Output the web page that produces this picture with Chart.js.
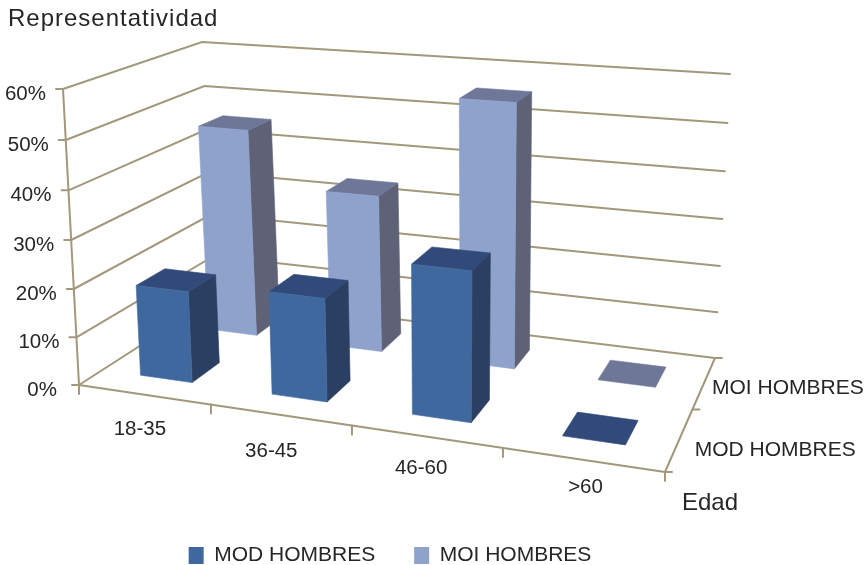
<!DOCTYPE html>
<html lang="es">
<head>
<meta charset="utf-8">
<title>Representatividad por edad</title>
<style>
  html, body { margin: 0; padding: 0; background: #fff; }
  #wrap { width: 866px; height: 565px; position: relative; }
</style>
<script src="https://cdn.jsdelivr.net/npm/chart.js@4/dist/chart.umd.min.js"></script>
</head>
<body>
<div id="wrap"><canvas id="chart" width="866" height="565"></canvas></div>
<script>
// Chart data
const ageGroups = ['18-35', '36-45', '46-60', '>60'];
const seriesNames = ['MOD HOMBRES', 'MOI HOMBRES'];
const modHombres = [19, 21, 29.7, 0];
const moiHombres = [45.5, 33.8, 55.5, 0];
const percentMax = 60;
const percentStep = 10;
const valueAxisTitle = 'Representatividad';
const ageAxisTitle = 'Edad';

// Box proportions and colours
const BAR_FILL = 0.4;
const modColors = { front: '#3f689f', top: '#324a79', side: '#2b3f62' };
const moiColors = { front: '#8fa2cc', top: '#6f7798', side: '#5f6276' };
const lineColor = '#a3977c';
const textColor = '#262626';
const fontFamily = '"Liberation Sans", Arial, sans-serif';

// Corners of the 3D frame on the canvas: front-left, front-right, back-right, back-left
const floorCorners = [[79, 385], [665, 472], [715, 358], [216, 297]];
const ceilingCorners = [[63, 89], [681, 136], [730, 74], [202, 42]];
const verticalPerspective = 0.96;

// Offsets of the age labels from the foot of each category on the front edge
const ageLabelOffsets = [[-4, 35], [-9, 36], [-5, 32], [3, 28]];

// Maps the unit square onto a quadrilateral
function squareToQuad(q) {
  const [p0, p1, p2, p3] = q;
  const d1x = p1[0] - p2[0], d1y = p1[1] - p2[1];
  const d2x = p3[0] - p2[0], d2y = p3[1] - p2[1];
  const sx = p0[0] - p1[0] + p2[0] - p3[0], sy = p0[1] - p1[1] + p2[1] - p3[1];
  const det = d1x * d2y - d2x * d1y;
  const g = (sx * d2y - d2x * sy) / det;
  const h = (d1x * sy - sx * d1y) / det;
  const a = p1[0] - p0[0] + g * p1[0], b = p3[0] - p0[0] + h * p3[0];
  const d = p1[1] - p0[1] + g * p1[1], e = p3[1] - p0[1] + h * p3[1];
  return (u, v) => {
    const den = 1 + g * u + h * v;
    return [(a * u + b * v + p0[0]) / den, (d * u + e * v + p0[1]) / den];
  };
}
const floorMap = squareToQuad(floorCorners);
const ceilingMap = squareToQuad(ceilingCorners);

// u: along the age axis, v: into the depth axis, w: up the value axis (all 0..1)
function project(u, v, w) {
  const b = floorMap(u, v), t = ceilingMap(u, v);
  const r = verticalPerspective;
  const den = (1 - w) + r * w;
  return [(b[0] * (1 - w) + r * t[0] * w) / den, (b[1] * (1 - w) + r * t[1] * w) / den];
}

function polyline(ctx, pts) {
  ctx.beginPath();
  pts.forEach((p, i) => i ? ctx.lineTo(p[0], p[1]) : ctx.moveTo(p[0], p[1]));
}
function fillFace(ctx, pts, color) {
  polyline(ctx, pts);
  ctx.closePath();
  ctx.fillStyle = color;
  ctx.fill();
  ctx.strokeStyle = color;
  ctx.lineWidth = 0.6;
  ctx.stroke();
}
function strokeLine(ctx, a, b) {
  polyline(ctx, [a, b]);
  ctx.stroke();
}
function label(ctx, text, x, y, size, align, spacing) {
  ctx.font = size + 'px ' + fontFamily;
  ctx.fillStyle = textColor;
  ctx.textAlign = align;
  ctx.textBaseline = 'middle';
  ctx.letterSpacing = (spacing || 0) + 'px';
  ctx.fillText(text, x, y);
  ctx.letterSpacing = '0px';
}

const unitX = (s, px) => (px - s.left) / s.width;
const unitW = (s, px) => (s.bottom - px) / (s.bottom - s.top);

// Walls, floor, axis ticks and axis labels
const frame3d = {
  id: 'frame3d',
  beforeDatasetsDraw(chart) {
    const { ctx, scales: { x, y, z } } = chart;
    ctx.save();
    ctx.strokeStyle = lineColor;
    ctx.lineWidth = 2;
    ctx.lineCap = 'round';

    // Value gridlines run along the left wall and the back wall
    y.ticks.forEach(tick => {
      const w = unitW(y, y.getPixelForValue(tick.value));
      polyline(ctx, [project(0, 0, w), project(0, 1, w), project(1, 1, w)]);
      ctx.stroke();
      const p = project(0, 0, w);
      strokeLine(ctx, [p[0] - 7, p[1]], p);
      label(ctx, tick.label, p[0] - (w === 0 ? 22 : 17), p[1] + 5, 20.5, 'right');
    });

    // Vertical axis and floor edges
    strokeLine(ctx, project(0, 0, 0), project(0, 0, 1));
    strokeLine(ctx, project(0, 0, 0), project(1, 0, 0));
    strokeLine(ctx, project(1, 0, 0), project(1, 1, 0));

    // Age axis ticks and labels
    const n = x.ticks.length;
    for (let i = 0; i <= n; i++) {
      const p = project(i / n, 0, 0);
      strokeLine(ctx, p, [p[0], p[1] + 9]);
    }
    x.ticks.forEach((tick, i) => {
      const p = project(unitX(x, x.getPixelForTick(i)), 0, 0);
      const [dx, dy] = ageLabelOffsets[i];
      label(ctx, tick.label, p[0] + dx, p[1] + dy, 20.5, 'center');
    });

    // Depth axis ticks and labels
    const m = z.ticks.length;
    for (let i = 0; i <= m; i++) {
      const p = project(1, i / m, 0);
      strokeLine(ctx, p, [p[0] + 7, p[1]]);
    }
    z.ticks.forEach((tick, i) => {
      const v = unitX(z, z.getPixelForTick(i));
      const p = project(1, v, 0);
      label(ctx, tick.label, p[0] + 19 - 15 * v, p[1] + 14 - 11 * v, 21, 'left');
    });

    label(ctx, valueAxisTitle, 8, 19, 24, 'left', 1);
    label(ctx, ageAxisTitle, 682, 503, 24, 'left');
    ctx.restore();
  }
};

// Each bar element is drawn as a box standing on the floor of the frame
const boxes3d = {
  id: 'boxes3d',
  beforeDatasetDraw(chart, args) {
    const { ctx, scales: { x, y, z } } = chart;
    const colors = chart.data.datasets[args.index].faces;
    const v0 = unitX(z, z.getPixelForTick(args.index));
    const halfDepth = BAR_FILL / z.ticks.length / 2;
    ctx.save();
    args.meta.data.forEach(bar => {
      const p = bar.getProps(['x', 'y', 'width'], true);
      const u1 = unitX(x, p.x - p.width / 2), u2 = unitX(x, p.x + p.width / 2);
      const a = v0 - halfDepth, b = v0 + halfDepth;
      const w = unitW(y, p.y);
      const top = [project(u1, a, w), project(u2, a, w), project(u2, b, w), project(u1, b, w)];
      if (w > 0) {
        fillFace(ctx, [project(u2, a, 0), project(u2, b, 0), top[2], top[1]], colors.side);
      }
      fillFace(ctx, top, colors.top);
      if (w > 0) {
        fillFace(ctx, [project(u1, a, 0), project(u2, a, 0), top[1], top[0]], colors.front);
      }
    });
    ctx.restore();
    return false;
  }
};

new Chart(document.getElementById('chart'), {
  type: 'bar',
  data: {
    labels: ageGroups,
    datasets: [
      { label: seriesNames[0], data: modHombres, backgroundColor: modColors.front, faces: modColors },
      { label: seriesNames[1], data: moiHombres, backgroundColor: moiColors.front, faces: moiColors }
    ]
  },
  plugins: [frame3d, boxes3d],
  options: {
    responsive: false,
    animation: false,
    layout: { padding: { right: 86, bottom: -11 } },
    datasets: { bar: { grouped: false, barPercentage: BAR_FILL, categoryPercentage: 1 } },
    scales: {
      x: { display: false },
      y: {
        display: false,
        min: 0,
        max: percentMax,
        ticks: { stepSize: percentStep, callback: v => v + '%' }
      },
      z: { axis: 'x', type: 'category', labels: seriesNames, offset: true, display: false }
    },
    plugins: {
      tooltip: { enabled: false },
      legend: {
        position: 'bottom',
        labels: {
          boxWidth: 15,
          boxHeight: 17,
          padding: 39,
          color: textColor,
          font: { family: fontFamily, size: 21 }
        }
      }
    }
  }
});
</script>
</body>
</html>
